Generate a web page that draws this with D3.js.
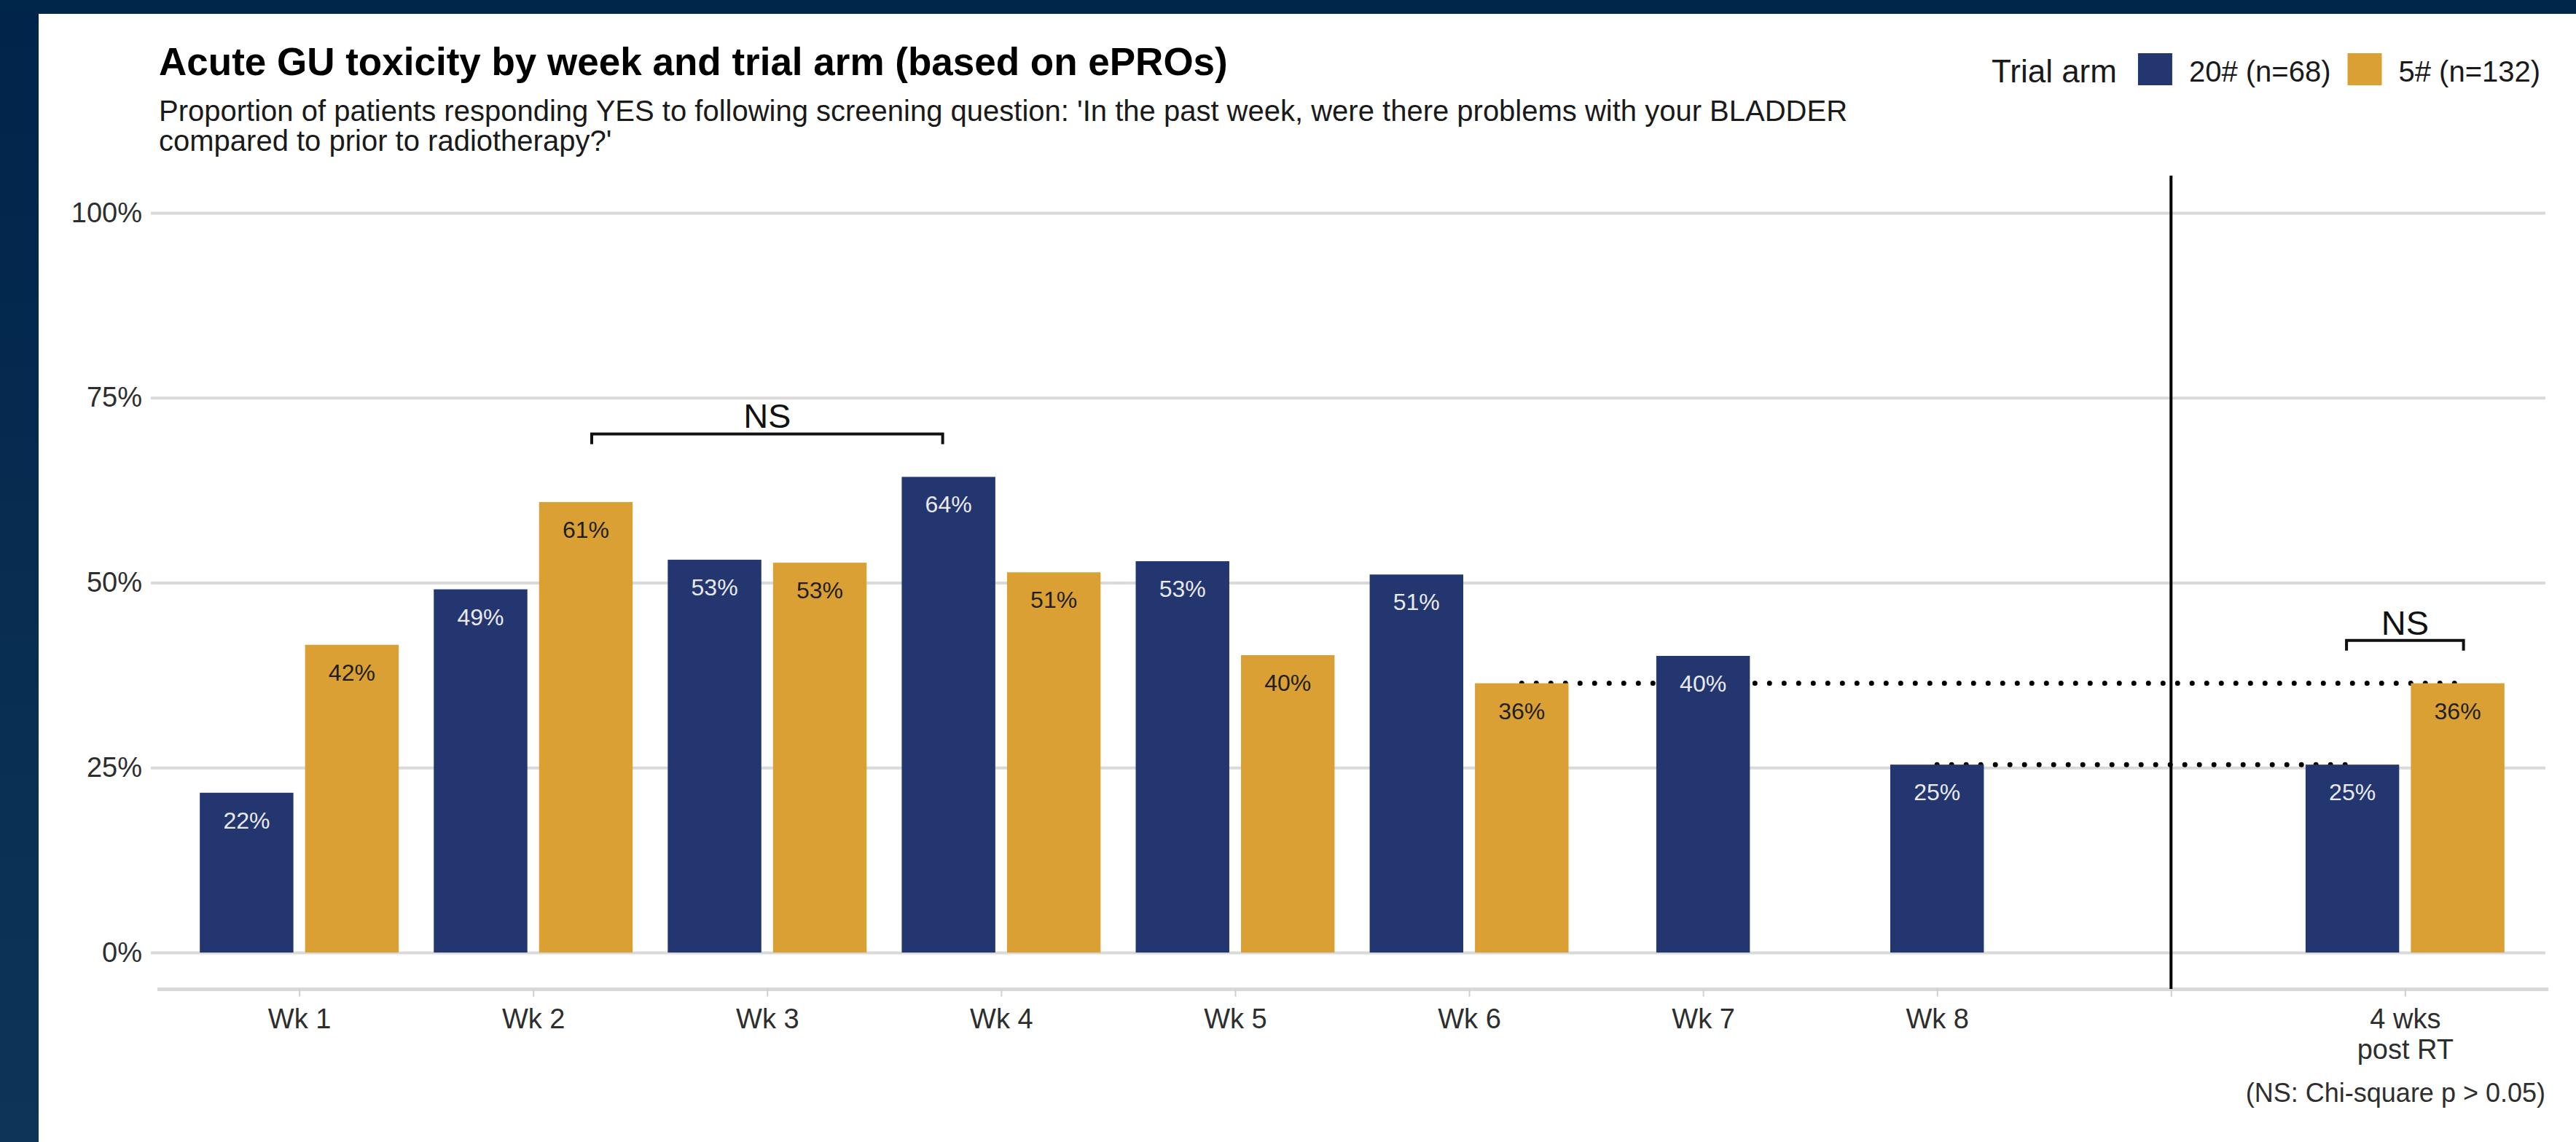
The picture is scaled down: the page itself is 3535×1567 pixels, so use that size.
<!DOCTYPE html>
<html>
<head>
<meta charset="utf-8">
<script src="https://cdn.jsdelivr.net/npm/d3@7"></script>
<style>
  body { margin: 0; background: #fff; overflow: hidden; }
  svg { display: block; font-family: "Liberation Sans", Arial, Helvetica, sans-serif; }
</style>
</head>
<body>
<script>
// categories along x (blank slot keeps the gap before the post-RT group)
const weeks = ["Wk 1", "Wk 2", "Wk 3", "Wk 4", "Wk 5", "Wk 6", "Wk 7", "Wk 8", "", "4 wks\npost RT"];
const arms = ["20# (n=68)", "5# (n=132)"];
const armColors = ["#23366f", "#dba034"];
const labelColors = ["#e9e9ee", "#1f1f1f"];

// % of patients answering YES
const arm20 = [21.6, 49.1, 53.1, 64.3, 52.9, 51.1, 40.1, 25.4, null, 25.4];
const arm5 = [41.6, 60.9, 52.7, 51.4, 40.2, 36.4, null, null, null, 36.4];

const yTicks = [0, 25, 50, 75, 100];

// NS brackets, positions in category-index units
const brackets = [
  { from: 1.25, to: 2.75, value: 70.1, label: "NS" },
  { from: 8.75, to: 9.25, value: 42.2, label: "NS" }
];
// dotted reference lines, from one bar to another
const refLines = [
  { from: [5, 1], to: [9, 1], value: 36.4 },
  { from: [7, 0], to: [9, 0], value: 25.4 }
];

const title = "Acute GU toxicity by week and trial arm (based on ePROs)";
const subtitle = [
  "Proportion of patients responding YES to following screening question: 'In the past week, were there problems with your BLADDER",
  "compared to prior to radiotherapy?'"
];
const caption = "(NS: Chi-square p > 0.05)";

const width = 3535, height = 1567;
const plot = { left: 218, right: 3493, top: 292, bottom: 1307 };

const svg = d3.select("body").append("svg")
  .attr("width", width)
  .attr("height", height);

// dark frame on the top and left
const defs = svg.append("defs");
const grad = defs.append("linearGradient")
  .attr("id", "frame")
  .attr("x1", 0).attr("y1", 0).attr("x2", 0).attr("y2", 1);
grad.append("stop").attr("offset", "0%").attr("stop-color", "#00244a");
grad.append("stop").attr("offset", "100%").attr("stop-color", "#0e3557");

svg.append("rect").attr("width", width).attr("height", height).attr("fill", "#fff");
svg.append("rect").attr("x", 0).attr("y", 0).attr("width", 53).attr("height", height).attr("fill", "url(#frame)");
svg.append("rect").attr("x", 0).attr("y", 0).attr("width", width).attr("height", 19).attr("fill", "#00264a");

const x = d3.scalePoint()
  .domain(weeks)
  .range([plot.left, plot.right])
  .padding(0.6);
const step = x.step();
const xIdx = d3.scaleLinear().domain([0, weeks.length - 1]).range([x(weeks[0]), x(weeks[weeks.length - 1])]);

const y = d3.scaleLinear()
  .domain([0, 100])
  .range([plot.bottom, plot.top]);

const series = [arm20, arm5];
const barW = 0.4 * step;

function barCenter(i, a) {
  const paired = arm20[i] != null && arm5[i] != null;
  if (!paired) return x(weeks[i]);
  return x(weeks[i]) + (a === 0 ? -1 : 1) * 0.225 * step;
}

// y axis with gridlines
const yAxis = svg.append("g")
  .attr("transform", `translate(207,0)`)
  .call(d3.axisLeft(y)
    .tickValues(yTicks)
    .tickFormat(d => d + "%")
    .tickSizeInner(-(plot.right - 207))
    .tickSizeOuter(0)
    .tickPadding(12));
yAxis.select(".domain").remove();
yAxis.selectAll(".tick line").attr("stroke", "#d9d9d9").attr("stroke-width", 4);
yAxis.selectAll(".tick text")
  .attr("font-size", 38)
  .attr("fill", "#2e2e2e")
  .attr("font-family", "Liberation Sans, Arial, sans-serif");

// x axis
const xAxis = svg.append("g")
  .attr("transform", `translate(0,1357.5)`)
  .call(d3.axisBottom(x).tickSize(10).tickPadding(17).tickFormat(""));
xAxis.select(".domain").remove();
xAxis.insert("line", ":first-child")
  .attr("x1", 216).attr("x2", 3497)
  .attr("stroke", "#d9d9d9").attr("stroke-width", 5);
xAxis.selectAll(".tick line").attr("stroke", "#cfcfcf").attr("stroke-width", 2);
xAxis.selectAll(".tick text")
  .attr("font-size", 38)
  .attr("fill", "#2e2e2e")
  .attr("font-family", "Liberation Sans, Arial, sans-serif")
  .attr("dy", null)
  .each(function (d) {
    const lines = d.split("\n");
    d3.select(this).selectAll("tspan")
      .data(lines)
      .join("tspan")
      .attr("x", 0)
      .attr("y", (l, k) => 53.5 + k * 42)
      .text(l => l);
  });

// dotted reference lines (under the bars)
svg.append("g")
  .selectAll("line")
  .data(refLines)
  .join("line")
  .attr("x1", d => barCenter(d.from[0], d.from[1]))
  .attr("x2", d => barCenter(d.to[0], d.to[1]))
  .attr("y1", d => y(d.value))
  .attr("y2", d => y(d.value))
  .attr("stroke", "#000")
  .attr("stroke-width", 7)
  .attr("stroke-linecap", "round")
  .attr("stroke-dasharray", "0 20");

// bars
const bars = [];
series.forEach((vals, a) => vals.forEach((v, i) => {
  if (v != null) bars.push({ i, a, v });
}));

svg.append("g")
  .selectAll("rect")
  .data(bars)
  .join("rect")
  .attr("x", d => barCenter(d.i, d.a) - barW / 2)
  .attr("y", d => y(d.v))
  .attr("width", barW)
  .attr("height", d => y(0) - y(d.v))
  .attr("fill", d => armColors[d.a]);

svg.append("g")
  .selectAll("text")
  .data(bars)
  .join("text")
  .attr("x", d => barCenter(d.i, d.a))
  .attr("y", d => y(d.v) + 49)
  .attr("text-anchor", "middle")
  .attr("font-size", 32)
  .attr("fill", d => labelColors[d.a])
  .text(d => Math.round(d.v) + "%");

// separator before post-RT group
svg.append("line")
  .attr("x1", x(weeks[8])).attr("x2", x(weeks[8]))
  .attr("y1", 241).attr("y2", 1357)
  .attr("stroke", "#000")
  .attr("stroke-width", 4);

// significance brackets
const br = svg.append("g")
  .selectAll("g")
  .data(brackets)
  .join("g");
br.append("path")
  .attr("d", d => {
    const x1 = xIdx(d.from), x2 = xIdx(d.to), yy = y(d.value);
    return `M${x1},${yy + 14}V${yy}H${x2}V${yy + 14}`;
  })
  .attr("fill", "none")
  .attr("stroke", "#111")
  .attr("stroke-width", 4);
br.append("text")
  .attr("x", d => (xIdx(d.from) + xIdx(d.to)) / 2)
  .attr("y", d => y(d.value) - 8)
  .attr("text-anchor", "middle")
  .attr("font-size", 47)
  .attr("fill", "#111")
  .text(d => d.label);

// titles
svg.append("text")
  .attr("x", 218).attr("y", 103)
  .attr("font-size", 53)
  .attr("font-weight", "bold")
  .attr("fill", "#000")
  .text(title);

svg.append("g")
  .selectAll("text")
  .data(subtitle)
  .join("text")
  .attr("x", 218)
  .attr("y", (d, k) => 166 + k * 41)
  .attr("font-size", 40)
  .attr("fill", "#1a1a1a")
  .text(d => d);

svg.append("text")
  .attr("x", 3493).attr("y", 1512)
  .attr("text-anchor", "end")
  .attr("font-size", 36)
  .attr("fill", "#2e2e2e")
  .text(caption);

// legend
const legend = svg.append("g");
const legTitle = legend.append("text")
  .attr("x", 2733).attr("y", 113)
  .attr("font-size", 44)
  .attr("fill", "#1a1a1a")
  .text("Trial arm");
let lx = 2733 + legTitle.node().getComputedTextLength() + 29;
arms.forEach((name, a) => {
  legend.append("rect")
    .attr("x", lx).attr("y", 73)
    .attr("width", 47).attr("height", 44)
    .attr("fill", armColors[a]);
  const t = legend.append("text")
    .attr("x", lx + 70).attr("y", 112)
    .attr("font-size", 40)
    .attr("fill", "#1a1a1a")
    .text(name);
  lx += 70 + t.node().getComputedTextLength() + 23;
});
</script>
</body>
</html>
